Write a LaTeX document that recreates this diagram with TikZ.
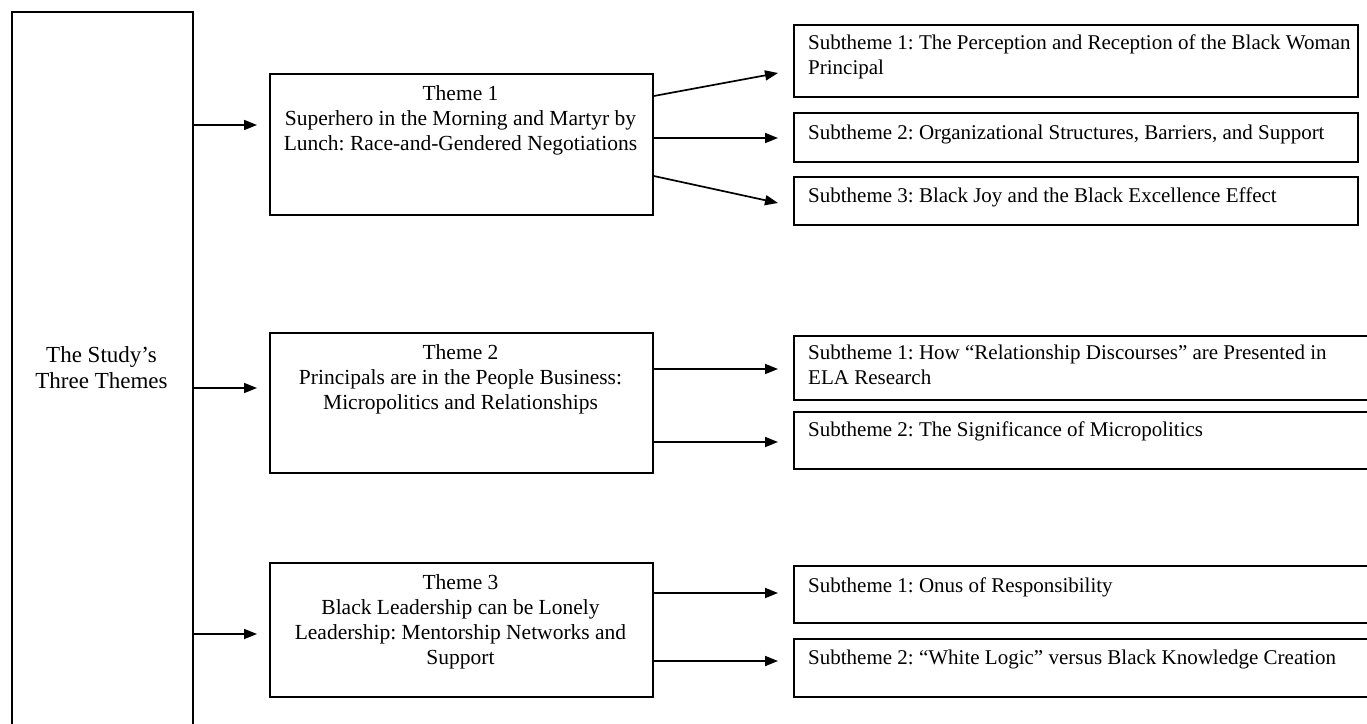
\documentclass[tikz,border=0pt]{standalone}
\usepackage{fontspec}
\setmainfont{Liberation Serif}
\usetikzlibrary{arrows.meta}
\begin{document}
\frenchspacing
\begin{tikzpicture}[x=1pt,y=-1pt,
  box/.style={draw, line width=1.8pt, rectangle, inner sep=0pt, anchor=north west},
  ttxt/.style={inner sep=0pt, anchor=north, align=center, font=\fontsize{21.5}{25}\selectfont},
  stxt/.style={inner sep=0pt, anchor=north west, align=left, font=\fontsize{21}{25}\selectfont},
  ltxt/.style={inner sep=0pt, anchor=north, align=center, font=\fontsize{23}{26}\selectfont},
  arr/.style={line width=1.7pt, -{Triangle[length=13pt,width=10pt]}}]
\clip (0,0) rectangle (1367,723);
\fill[white] (0,0) rectangle (1367,723);

% left box
\node[box, minimum width=181pt, minimum height=740pt] (lb) at (11,11) {};
\node[ltxt] (lt) at (101.5,346) {The Study’s\\Three Themes};

% themes
\node[box, minimum width=383pt, minimum height=141pt] (t1) at (269,73) {};
\node[ttxt] (t1txt) at (460.5,85) {Theme 1\\Superhero in the Morning and Martyr by\\Lunch: Race-and-Gendered Negotiations};
\node[box, minimum width=383pt, minimum height=140pt] (t2) at (269,332) {};
\node[ttxt] (t2txt) at (460.5,344.5) {Theme 2\\Principals are in the People Business:\\Micropolitics and Relationships};
\node[box, minimum width=383pt, minimum height=134pt] (t3) at (269,562) {};
\node[ttxt] (t3txt) at (460.5,574.5) {Theme 3\\Black Leadership can be Lonely\\Leadership: Mentorship Networks and\\Support};

% subthemes
\node[box, minimum width=564pt, minimum height=72pt] (s11) at (793,24) {};
\node[stxt] (s11txt) at (808,35) {Subtheme 1: The Perception and Reception of the Black Woman\\Principal};
\node[box, minimum width=564pt, minimum height=49pt] (s12) at (793,112) {};
\node[stxt] (s12txt) at (808,125) {Subtheme 2: Organizational Structures, Barriers, and Support};
\node[box, minimum width=564pt, minimum height=48pt] (s13) at (793,176) {};
\node[stxt] (s13txt) at (808,188) {Subtheme 3: Black Joy and the Black Excellence Effect};

\node[box, minimum width=600pt, minimum height=64pt] (s21) at (793,335) {};
\node[stxt] (s21txt) at (808,345) {Subtheme 1: How “Relationship Discourses” are Presented in\\ELA Research};
\node[box, minimum width=600pt, minimum height=57pt] (s22) at (793,411) {};
\node[stxt] (s22txt) at (808,422) {Subtheme 2: The Significance of Micropolitics};

\node[box, minimum width=600pt, minimum height=57pt] (s31) at (793,565) {};
\node[stxt] (s31txt) at (808,578) {Subtheme 1: Onus of Responsibility};
\node[box, minimum width=600pt, minimum height=58pt] (s32) at (793,638) {};
\node[stxt] (s32txt) at (808,650) {Subtheme 2: “White Logic” versus Black Knowledge Creation};

% connector points
\coordinate (a1) at ([yshift=-114pt]lb.north east);
\coordinate (a2) at ([yshift=-377pt]lb.north east);
\coordinate (a3) at ([yshift=-623pt]lb.north east);

\coordinate (p11) at ([yshift=-23pt]t1.north east);
\coordinate (q11) at ([xshift=-15pt,yshift=-49pt]s11.north west);
\coordinate (p12) at ([yshift=-65pt]t1.north east);
\coordinate (p13) at ([yshift=-103pt]t1.north east);
\coordinate (q13) at ([xshift=-15pt,yshift=-27pt]s13.north west);

\coordinate (p21) at ([yshift=-37pt]t2.north east);
\coordinate (p22) at ([yshift=-110pt]t2.north east);
\coordinate (p31) at ([yshift=-31pt]t3.north east);
\coordinate (p32) at ([yshift=-99pt]t3.north east);

% connectors
\draw[arr, shorten >=12pt] (a1) -- (t1.west |- a1);
\draw[arr, shorten >=12pt] (a2) -- (t2.west |- a2);
\draw[arr, shorten >=12pt] (a3) -- (t3.west |- a3);

\draw[arr] (p11) -- (q11);
\draw[arr, shorten >=15pt] (p12) -- (s12.west |- p12);
\draw[arr] (p13) -- (q13);

\draw[arr, shorten >=15pt] (p21) -- (s21.west |- p21);
\draw[arr, shorten >=15pt] (p22) -- (s22.west |- p22);
\draw[arr, shorten >=15pt] (p31) -- (s31.west |- p31);
\draw[arr, shorten >=15pt] (p32) -- (s32.west |- p32);
\end{tikzpicture}
\end{document}
